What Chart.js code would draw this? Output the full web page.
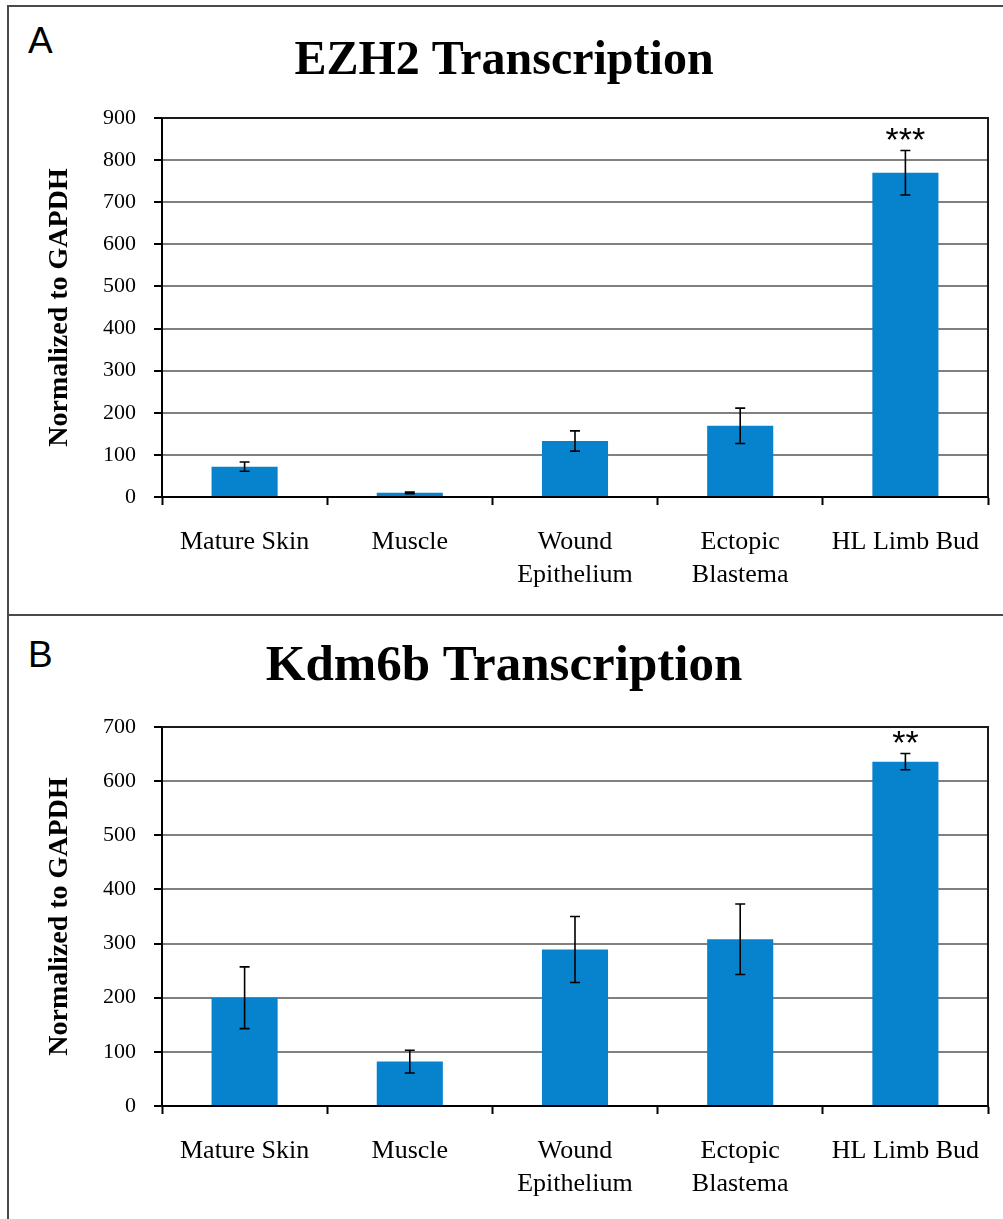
<!DOCTYPE html>
<html>
<head>
<meta charset="utf-8">
<script src="https://cdn.jsdelivr.net/npm/chart.js@4.4.1/dist/chart.umd.min.js"></script>
<style>
body{margin:0;background:#fff;width:1003px;height:1219px;position:relative;overflow:hidden;font-family:"Liberation Sans",Arial,sans-serif}
.panel{position:absolute;left:20px;width:983px}
#panelA{top:0;height:615px}
#panelB{top:615px;height:604px}
.letter{position:absolute;left:28px;font-size:37px;line-height:37px;color:#000}
.line{position:absolute;background:#4a4a4a}
</style>
</head>
<body>
<div class="line" style="left:7px;top:5px;width:996px;height:2px"></div>
<div class="line" style="left:7px;top:5px;width:2px;height:1214px"></div>
<div class="line" style="left:7px;top:614px;width:996px;height:2px"></div>
<div class="letter" style="top:22px">A</div>
<div class="letter" style="top:636px">B</div>
<div class="panel" id="panelA"><canvas id="chartA"></canvas></div>
<div class="panel" id="panelB"><canvas id="chartB"></canvas></div>
<script>
//Data
const categories = [['Mature Skin'], ['Muscle'], ['Wound', 'Epithelium'], ['Ectopic', 'Blastema'], ['HL Limb Bud']];

const ezh2Values = [72, 10, 133, 169, 770];
const ezh2Errors = [11, 2, 24, 42, 53];
const ezh2Stars = ['', '', '', '', '***'];
const ezh2Ticks = [0, 100, 200, 300, 400, 500, 600, 700, 800, 900];

const kdm6bValues = [200, 82, 289, 308, 636];
const kdm6bErrors = [57, 21, 61, 65, 15];
const kdm6bStars = ['', '', '', '', '**'];
const kdm6bTicks = [0, 100, 200, 300, 400, 500, 600, 700];

const barColor = '#0782cd';

//error bars + significance stars
const errorBars = {
    id: 'errorBars',
    afterDatasetsDraw(chart, args, opts){
        const ctx = chart.ctx;
        const y = chart.scales.y;
        const meta = chart.getDatasetMeta(0);
        const values = chart.data.datasets[0].data;
        ctx.save();
        ctx.strokeStyle = '#000';
        ctx.lineWidth = 1.6;
        meta.data.forEach((bar, i) => {
            const top = y.getPixelForValue(values[i] + opts.errors[i]);
            const bot = y.getPixelForValue(values[i] - opts.errors[i]);
            ctx.beginPath();
            ctx.moveTo(bar.x, top); ctx.lineTo(bar.x, bot);
            ctx.moveTo(bar.x - 5, top); ctx.lineTo(bar.x + 5, top);
            ctx.moveTo(bar.x - 5, bot); ctx.lineTo(bar.x + 5, bot);
            ctx.stroke();
            if(opts.stars[i]){
                ctx.fillStyle = '#000';
                ctx.font = '34px "Liberation Sans", Arial, sans-serif';
                ctx.textAlign = 'center';
                ctx.textBaseline = 'middle';
                ctx.fillText(opts.stars[i], bar.x, top - 9);
            }
        });
        // top and right frame of the plot
        const a = chart.chartArea;
        ctx.strokeStyle = '#1a1a1a';
        ctx.lineWidth = 2;
        ctx.beginPath();
        ctx.moveTo(a.left, a.top); ctx.lineTo(a.right, a.top); ctx.lineTo(a.right, a.bottom);
        ctx.stroke();
        ctx.restore();
    }
};

function createChart(id, title, titleSize, titlePad, values, errors, stars, ticks, xHeight){
    const ctx = document.getElementById(id).getContext('2d');
    return new Chart(ctx, {
        type: 'bar',
        data: {
            labels: categories,
            datasets: [{
                data: values,
                backgroundColor: barColor,
                barPercentage: 0.4,
                categoryPercentage: 1.0
            }]
        },
        options: {
            responsive: true,
            maintainAspectRatio: false,
            animation: false,
            layout: {padding: {left: 0, right: 15, top: 0, bottom: 0}},
            plugins: {
                legend: {display: false},
                tooltip: {enabled: false},
                title: {
                    display: true,
                    text: title,
                    color: '#000',
                    font: {family: '"Liberation Serif", serif', size: titleSize, weight: 'bold'},
                    padding: titlePad
                },
                errorBars: {errors: errors, stars: stars}
            },
            scales: {
                x: {
                    grid: {display: true, drawOnChartArea: false, drawTicks: true, tickLength: 8, tickColor: '#000', tickWidth: 2, offset: true},
                    border: {display: true, color: '#000', width: 2},
                    ticks: {
                        color: '#000',
                        font: {family: '"Liberation Serif", serif', size: 26, lineHeight: 1.25},
                        padding: 21,
                        autoSkip: false,
                        maxRotation: 0
                    },
                    afterFit: s => { s.height = xHeight; }
                },
                y: {
                    min: ticks[0],
                    max: ticks[ticks.length - 1],
                    grid: {color: '#808080', lineWidth: 2, tickLength: 8, tickColor: '#000', tickWidth: 2},
                    border: {display: true, color: '#000', width: 2},
                    ticks: {
                        stepSize: ticks[1] - ticks[0],
                        color: '#000',
                        font: {family: '"Liberation Serif", serif', size: 22},
                        padding: 18
                    },
                    title: {
                        display: true,
                        text: 'Normalized to GAPDH',
                        color: '#000',
                        font: {family: '"Liberation Serif", serif', size: 28, weight: 'bold'},
                        padding: {top: 23, bottom: 0}
                    },
                    afterFit: s => { s.width = 142; }
                }
            }
        },
        plugins: [errorBars]
    });
}

createChart('chartA', 'EZH2 Transcription', 48, {top: 33, bottom: 27.4}, ezh2Values, ezh2Errors, ezh2Stars, ezh2Ticks, 118);
createChart('chartB', 'Kdm6b Transcription', 51, {top: 21.4, bottom: 29.4}, kdm6bValues, kdm6bErrors, kdm6bStars, kdm6bTicks, 113);
</script>
</body>
</html>
